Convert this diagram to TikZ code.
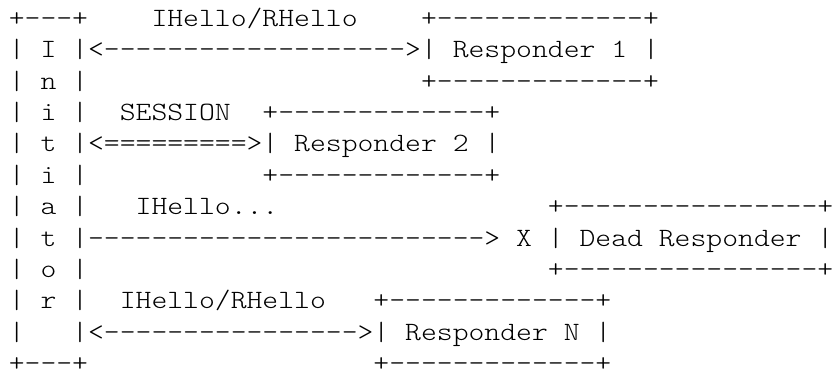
\documentclass[tikz,border=0pt]{standalone}
\usepackage{fontspec}
\setmonofont{lmmonolt10-regular.otf}
\ExplSyntaxOn
\NewDocumentCommand\chrep{mm}{\prg_replicate:nn{#1}{#2}}
\ExplSyntaxOff
\begin{document}
\begin{tikzpicture}[x=1pt,y=1pt,
  asc/.style={font=\ttfamily\fontsize{19.8pt}{23.55pt}\selectfont,
    inner sep=0pt, outer sep=0pt, anchor=base west, text depth=0pt,
    xscale=1.144, transform shape, text=black}]
\fill[white] (0,0) rectangle (624,-279);
\useasboundingbox (0,0) rectangle (624,-279);
\def\lx{6.6}
\node[asc] (l1)  at (\lx,-19.70)  {+---+\chrep{4}{~}IHello/RHello\chrep{4}{~}+\chrep{13}{-}+};
\node[asc] (l2)  at (\lx,-43.25)  {|~I~|<\chrep{19}{-}>|~Responder~1~|};
\node[asc] (l3)  at (\lx,-66.80)  {|~n~|\chrep{21}{~}+\chrep{13}{-}+};
\node[asc] (l4)  at (\lx,-90.35)  {|~i~|~~SESSION~~+\chrep{13}{-}+};
\node[asc] (l5)  at (\lx,-113.90) {|~t~|<\chrep{9}{=}>|~Responder~2~|};
\node[asc] (l6)  at (\lx,-137.45) {|~i~|\chrep{11}{~}+\chrep{13}{-}+};
\node[asc] (l7)  at (\lx,-161.00) {|~a~|~~~IHello...\chrep{17}{~}+\chrep{16}{-}+};
\node[asc] (l8)  at (\lx,-184.55) {|~t~|\chrep{25}{-}>~X~|~Dead~Responder~|};
\node[asc] (l9)  at (\lx,-208.10) {|~o~|\chrep{29}{~}+\chrep{16}{-}+};
\node[asc] (l10) at (\lx,-231.65) {|~r~|~~IHello/RHello~~~+\chrep{13}{-}+};
\node[asc] (l11) at (\lx,-255.20) {|~~~|<\chrep{16}{-}>|~Responder~N~|};
\node[asc] (l12) at (\lx,-278.50) {+---+\chrep{18}{~}+\chrep{13}{-}+};
\end{tikzpicture}
\end{document}
